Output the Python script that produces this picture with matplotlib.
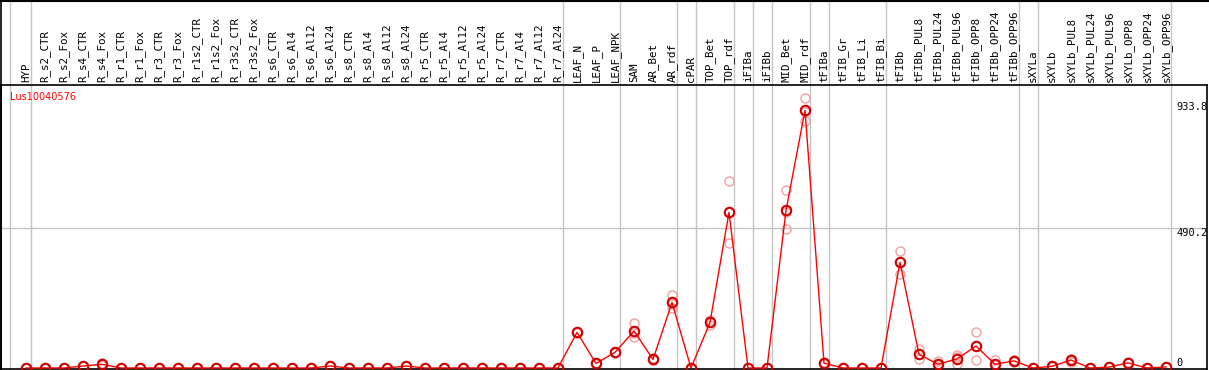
#Expression profile plot

import matplotlib
matplotlib.use('Agg')
import matplotlib.pyplot as plt
import matplotlib.transforms as mtransforms
import numpy as np

labels = ['HYP', 'R_s2_CTR', 'R_s2_Fox', 'R_s4_CTR', 'R_s4_Fox', 'R_r1_CTR', 'R_r1_Fox',
          'R_r3_CTR', 'R_r3_Fox', 'R_r1s2_CTR', 'R_r1s2_Fox', 'R_r3s2_CTR', 'R_r3s2_Fox',
          'R_s6_CTR', 'R_s6_Al4', 'R_s6_Al12', 'R_s6_Al24', 'R_s8_CTR', 'R_s8_Al4',
          'R_s8_Al12', 'R_s8_Al24', 'R_r5_CTR', 'R_r5_Al4', 'R_r5_Al12', 'R_r5_Al24',
          'R_r7_CTR', 'R_r7_Al4', 'R_r7_Al12', 'R_r7_Al24', 'LEAF_N', 'LEAF_P', 'LEAF_NPK',
          'SAM', 'AR_Bet', 'AR_rdf', 'cPAR', 'TOP_Bet', 'TOP_rdf', 'iFIBa', 'iFIBb',
          'MID_Bet', 'MID_rdf', 'tFIBa', 'tFIB_Gr', 'tFIB_Li', 'tFIB_Bi', 'tFIBb',
          'tFIBb_PUL8', 'tFIBb_PUL24', 'tFIBb_PUL96', 'tFIBb_OPP8', 'tFIBb_OPP24',
          'tFIBb_OPP96', 'sXYLa', 'sXYLb', 'sXYLb_PUL8', 'sXYLb_PUL24', 'sXYLb_PUL96',
          'sXYLb_OPP8', 'sXYLb_OPP24', 'sXYLb_OPP96']

mean_vals = [0, 0, 0, 7, 13, 0, 0, 0, 0, 0, 0, 0, 0, 0, 0, 0, 7, 0, 0, 0, 7, 0, 0, 0, 0, 0, 0, 0, 0,
             125, 16, 55, 130, 30, 230, 0, 160, 546, 0, 0, 553, 904, 17, 0, 0, 0,
             371, 48, 13, 32, 77, 13, 25, 0, 6, 28, 0, 3, 18, 0, 4]
rep1 = [0, 0, 0, 8, 19, 0, 0, 0, 0, 0, 0, 0, 0, 0, 0, 0, 8, 0, 0, 0, 8, 0, 0, 0, 0, 0, 0, 0, 0,
        128, 18, 57, 157, 34, 256, 0, 168, 655, 0, 0, 623, 946, 20, 0, 0, 0,
        412, 67, 25, 46, 126, 28, 28, 0, 8, 32, 0, 4, 20, 0, 5]
rep2 = [0, 0, 0, 6, 10, 0, 0, 0, 0, 0, 0, 0, 0, 0, 0, 0, 6, 0, 0, 0, 6, 0, 0, 0, 0, 0, 0, 0, 0,
        122, 14, 53, 110, 27, 209, 0, 151, 437, 0, 0, 487, 866, 14, 0, 0, 0,
        329, 30, 5, 13, 27, 1, 22, 0, 4, 21, 0, 2, 16, 0, 3]
rep3 = [0, 0, 0, 7, 10, 0, 0, 0, 0, 0, 0, 0, 0, 0, 0, 0, 7, 0, 0, 0, 7, 0, 0, 0, 0, 0, 0, 0, 0,
        125, 16, 55, 123, 29, 225, 0, 161, 546, 0, 0, 549, 900, 17, 0, 0, 0,
        372, 48, 11, 38, 78, 10, 25, 0, 6, 31, 0, 3, 18, 0, 4]

# group separators: sample index after which a grey line is drawn
group_ends = [-1, 0, 28, 31, 34, 35, 37, 38, 39, 41, 42, 45, 52, 53, 60]
y_ticks = [0, 490.2, 933.8]
gene = 'Lus10040576'

W, H = 1209, 370
fig = plt.figure(figsize=(W / 100, H / 100), dpi=100)
ax_top, ax_bot, ax_l, ax_r = 85, 369, 1, 1207
ax = fig.add_axes([ax_l / W, (H - ax_bot) / H, (ax_r - ax_l) / W, (ax_bot - ax_top) / H])

x = np.arange(len(labels))
px = 19.0
x0 = 26.0
ax.set_xlim((ax_l - x0) / px, (ax_r - x0) / px)
scale = 0.285
ax.set_ylim((368 - ax_bot) / scale, (368 - ax_top) / scale)

grey = '#c4c4c4'
hdr = (ax_top - 0) / (ax_bot - ax_top)
trans = mtransforms.blended_transform_factory(ax.transData, ax.transAxes)
for g in group_ends:
    gx = g + 0.24 if g >= 0 else -0.84
    ax.plot([gx, gx], [0, 1 + hdr], color=grey, lw=1.0, transform=trans, clip_on=False, zorder=1)

ax.axhline(y_ticks[1], color=grey, lw=1.0, zorder=1)

for r in (rep1, rep2, rep3):
    ax.plot(x, r, 'o', ms=6.5, mfc='none', mec='#f0a0a0', mew=1.0, zorder=2, clip_on=False)
ax.plot(x, mean_vals, '-', color='red', lw=1.0, zorder=3)
ax.plot(x, mean_vals, 'o', ms=6.8, mfc='none', mec='#d00000', mew=1.5, zorder=4)

for i, lab in enumerate(labels):
    ax.text(i, 1 + 3.0 / (ax_bot - ax_top), lab, transform=trans, rotation=90,
            ha='center', va='bottom', family='DejaVu Sans Mono', fontsize=7.8,
            clip_on=False)

tx = (1176 - x0) / px
ax.text(tx, y_ticks[2], '933.8', va='top', ha='left', family='DejaVu Sans Mono', fontsize=7.5)
ax.text(tx, y_ticks[1], '490.2', va='top', ha='left', family='DejaVu Sans Mono', fontsize=7.5)
ax.text(tx, y_ticks[0], '0', va='bottom', ha='left', family='DejaVu Sans Mono', fontsize=7.5)

ax.text(9.0 / (ax_r - ax_l), 1 - 12.0 / (ax_bot - ax_top), gene, transform=ax.transAxes,
        color='red', fontsize=7, va='center', ha='left')

ax.set_xticks([])
ax.set_yticks([])
for s in ax.spines.values():
    s.set_color('black')
    s.set_linewidth(1.2)

# outer frame of header
fig.add_artist(plt.Line2D([0, 1], [1 - 0.5 / H, 1 - 0.5 / H], color='black', lw=1.5))
fig.add_artist(plt.Line2D([1.2 / W, 1.2 / W], [0, 1], color='black', lw=1.2))

fig.savefig('out.png', dpi=100)
